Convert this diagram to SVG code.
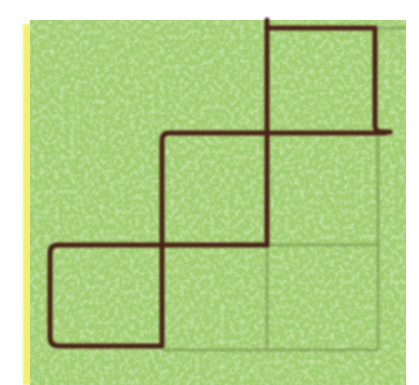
<svg xmlns="http://www.w3.org/2000/svg" width="419" height="385" viewBox="0 0 419 385">
<defs>
<filter id="grain" x="0" y="0" width="100%" height="100%">
<feTurbulence type="fractalNoise" baseFrequency="0.2" numOctaves="2" seed="5" result="n"/>
<feColorMatrix in="n" type="matrix" values="0 0 0 0 0.8  0 0 0 0 0.92  0 0 0 0 0.6  0 0 0 0.9 -0.35" result="c"/>
<feComposite in="c" in2="SourceGraphic" operator="in" result="m"/>
<feMerge><feMergeNode in="SourceGraphic"/><feMergeNode in="m"/></feMerge>
</filter>
<filter id="soft"><feGaussianBlur stdDeviation="1.1"/></filter>
</defs>
<style>
.heavy{fill:none;stroke:#4a2219;stroke-width:5;stroke-linecap:round;stroke-linejoin:round}
.light{fill:none;stroke:#6f8a45;stroke-width:3;opacity:0.55}
</style>
<rect width="419" height="385" fill="#ffffff"/>
<rect x="23" y="24" width="9" height="361" fill="#f2f070" filter="url(#soft)"/>
<g id="paper">
<rect x="30" y="20" width="376" height="365" fill="#a2cf72" filter="url(#grain)"/>
</g>
<g id="connectors" filter="url(#soft)">
<path class="light" d="M267 245 L267 350 M162 350 L378 350 M378 133 L378 350 M267 245 L380 245 M375 28 L405 28"/>
<path class="heavy" d="M267 20 L267 245"/>
<path class="heavy" d="M267 28 L375 28 L375 125 Q375 132 382 132 L390 132"/>
<path class="heavy" d="M162 245 L162 140 Q162 133 169 133 L385 133"/>
<path class="heavy" d="M267 245 L58 245 Q50 245 50 253 L50 337 Q50 346 59 346 L162 346 L162 245"/>
</g>
</svg>
